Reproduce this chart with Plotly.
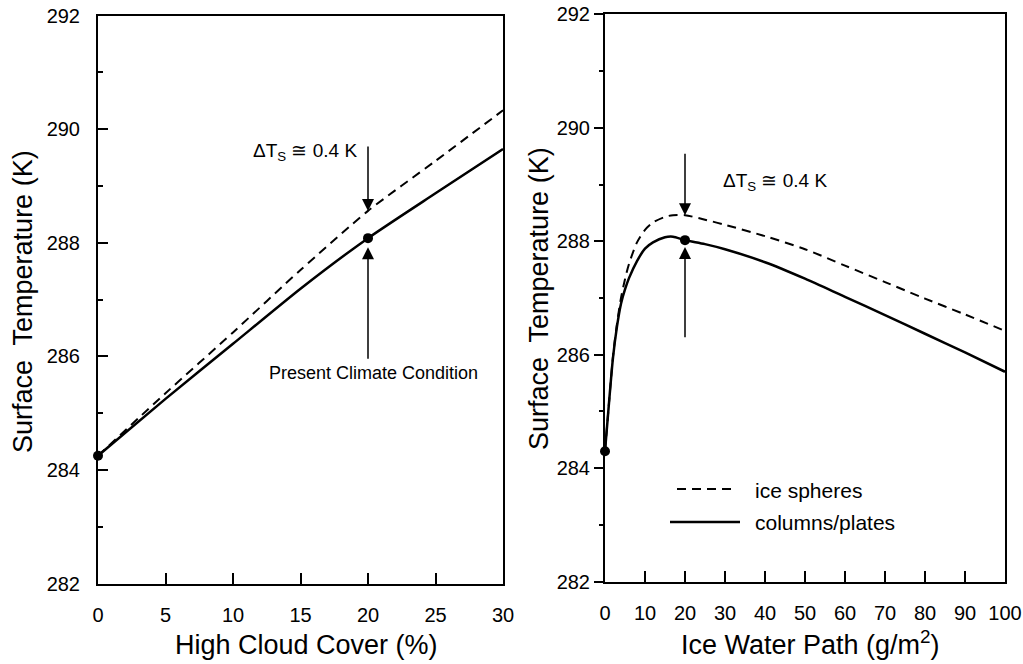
import plotly.graph_objects as go

# ---------------- data ----------------
cloud_cover = [0, 5, 10, 15, 20, 25, 30]
cc_columns = [284.25, 285.25, 286.22, 287.19, 288.08, 288.87, 289.65]
cc_spheres = [284.25, 285.35, 286.42, 287.52, 288.56, 289.44, 290.33]

iwp = [0, 1, 2, 3, 4, 5, 6, 8, 10, 12, 15, 17, 20, 25, 30, 40, 50, 60, 70, 80, 90, 100]
iwp_columns = [284.3, 285.15, 285.95, 286.5, 286.9, 287.15, 287.35, 287.65, 287.87, 287.98,
               288.07, 288.08, 288.02, 287.95, 287.86, 287.63, 287.34, 287.02, 286.70, 286.37,
               286.04, 285.70]
iwp_spheres = [284.3, 285.15, 285.97, 286.55, 287.0, 287.33, 287.6, 287.98, 288.2, 288.33,
               288.43, 288.46, 288.46, 288.38, 288.29, 288.09, 287.86, 287.57, 287.28, 286.99,
               286.71, 286.42]

cc_points_x = [0, 20]
cc_points_y = [284.25, 288.08]
iwp_points_x = [0, 20]
iwp_points_y = [284.3, 288.02]

y_ticks = [282, 284, 286, 288, 290, 292]
cc_ticks = [0, 5, 10, 15, 20, 25, 30]
iwp_ticks = [0, 10, 20, 30, 40, 50, 60, 70, 80, 90, 100]

W, H = 1023, 664
FONT = "Liberation Sans, Arial, Helvetica, sans-serif"


def px(x):
    return x / W


def py(y):
    return 1 - y / H


fig = go.Figure()

DASH = "9px,6px"

# left panel
fig.add_trace(go.Scatter(x=cloud_cover, y=cc_spheres, mode="lines", xaxis="x", yaxis="y",
                         line=dict(color="black", width=2, dash=DASH, shape="spline", smoothing=0.6),
                         name="ice spheres", showlegend=False))
fig.add_trace(go.Scatter(x=cloud_cover, y=cc_columns, mode="lines", xaxis="x", yaxis="y",
                         line=dict(color="black", width=2.5, shape="spline", smoothing=0.6),
                         name="columns/plates", showlegend=False))
fig.add_trace(go.Scatter(x=cc_points_x, y=cc_points_y, mode="markers", xaxis="x", yaxis="y",
                         marker=dict(color="black", size=10), showlegend=False, cliponaxis=False))

# right panel
fig.add_trace(go.Scatter(x=iwp, y=iwp_spheres, mode="lines", xaxis="x2", yaxis="y2",
                         line=dict(color="black", width=2, dash=DASH, shape="spline", smoothing=0.8),
                         name="ice spheres", showlegend=False))
fig.add_trace(go.Scatter(x=iwp, y=iwp_columns, mode="lines", xaxis="x2", yaxis="y2",
                         line=dict(color="black", width=2.5, shape="spline", smoothing=0.8),
                         name="columns/plates", showlegend=False))
fig.add_trace(go.Scatter(x=iwp_points_x, y=iwp_points_y, mode="markers", xaxis="x2", yaxis="y2",
                         marker=dict(color="black", size=10), showlegend=False, cliponaxis=False))

tickfont = dict(family=FONT, size=20, color="black")

common_x = dict(showline=True, linecolor="black", linewidth=2, mirror=True, ticks="inside",
                ticklen=11, tickwidth=1.5, tickcolor="black", showgrid=False, zeroline=False,
                tickfont=tickfont, ticklabelstandoff=12, automargin=False)

fig.update_layout(
    width=W, height=H,
    margin=dict(l=0, r=0, t=0, b=0, pad=0, autoexpand=False),
    paper_bgcolor="white", plot_bgcolor="white",
    showlegend=False,
    xaxis=dict(domain=[px(98), px(503)], range=[0, 30], tickvals=cc_ticks, anchor="y", **common_x),
    yaxis=dict(domain=[py(583.5), py(15.5)], range=[282, 292], tickvals=y_ticks, anchor="x",
               showline=True, linecolor="black", linewidth=2, mirror=True, ticks="inside",
               ticklen=10, tickwidth=1.5, tickcolor="black", showgrid=False, zeroline=False,
               tickfont=tickfont, ticklabelstandoff=12, automargin=False,
               minor=dict(ticks="inside", ticklen=5, tickwidth=1.5, tickcolor="black", dtick=1,
                          showgrid=False)),
    xaxis2=dict(domain=[px(605), px(1005)], range=[0, 100], tickvals=iwp_ticks, anchor="y2",
                **common_x),
    yaxis2=dict(domain=[py(581.7), py(14.3)], range=[282, 292], tickvals=y_ticks, anchor="x2",
                showline=True, linecolor="black", linewidth=2, mirror=True, ticks="outside",
                ticklen=9, tickwidth=1.5, tickcolor="black", showgrid=False, zeroline=False,
                tickfont=tickfont, automargin=False,
                minor=dict(ticks="outside", ticklen=4, tickwidth=1.5, tickcolor="black", dtick=1,
                           showgrid=False)),
)

ann = []
title_font = dict(family=FONT, size=27, color="black")
# axis titles
ann.append(dict(text="Surface  Temperature (K)", x=px(23), y=py(302), xref="paper", yref="paper",
                textangle=-90, showarrow=False, font=title_font, xanchor="center", yanchor="middle"))
ann.append(dict(text="Surface  Temperature (K)", x=px(539), y=py(299), xref="paper", yref="paper",
                textangle=-90, showarrow=False, font=title_font, xanchor="center", yanchor="middle"))
ann.append(dict(text="High Cloud Cover (%)", x=px(306), y=py(645), xref="paper", yref="paper",
                showarrow=False, font=title_font, xanchor="center", yanchor="middle"))
ann.append(dict(text="Ice Water Path (g/m<sup>2</sup>)", x=px(810), y=py(643), xref="paper",
                yref="paper", showarrow=False, font=title_font, xanchor="center", yanchor="middle"))

afont = dict(family=FONT, size=19, color="black")
arrow = dict(showarrow=True, arrowhead=2, arrowsize=1.6, arrowwidth=1.5, arrowcolor="black",
             standoff=0, text="")
# left panel annotations
ann.append(dict(x=20, y=288.56, ax=20, ay=289.72, xref="x", yref="y", axref="x", ayref="y", **arrow))
ann.append(dict(x=20, y=287.92, ax=20, ay=285.93, xref="x", yref="y", axref="x", ayref="y", **arrow))
ann.append(dict(text="ΔT<sub>S</sub> ≅ 0.4 K", x=11.3, y=289.6, xref="x", yref="y",
                showarrow=False, font=afont, xanchor="left", yanchor="middle"))
ann.append(dict(text="Present Climate Condition", x=12.5, y=285.71, xref="x", yref="y",
                showarrow=False, font=dict(family=FONT, size=18, color="black"),
                xanchor="left", yanchor="middle"))
# right panel annotations
ann.append(dict(x=20, y=288.46, ax=20, ay=289.57, xref="x2", yref="y2", axref="x2", ayref="y2", **arrow))
ann.append(dict(x=20, y=287.90, ax=20, ay=286.28, xref="x2", yref="y2", axref="x2", ayref="y2", **arrow))
ann.append(dict(text="ΔT<sub>S</sub> ≅ 0.4 K", x=28.9, y=289.05, xref="x2", yref="y2",
                showarrow=False, font=afont, xanchor="left", yanchor="middle"))
# legend labels
lfont = dict(family=FONT, size=21, color="black")
ann.append(dict(text="ice spheres", x=px(753), y=py(490), xref="paper", yref="paper",
                showarrow=False, font=lfont, xanchor="left", yanchor="middle"))
ann.append(dict(text="columns/plates", x=px(753), y=py(522), xref="paper", yref="paper",
                showarrow=False, font=lfont, xanchor="left", yanchor="middle"))

fig.update_layout(annotations=ann)

shapes = [
    dict(type="line", xref="paper", yref="paper", x0=px(677), x1=px(737), y0=py(489), y1=py(489),
         line=dict(color="black", width=2, dash=DASH)),
    dict(type="line", xref="paper", yref="paper", x0=px(670), x1=px(740), y0=py(522), y1=py(522),
         line=dict(color="black", width=2.5)),
]
fig.update_layout(shapes=shapes)

fig.write_html("out.html")
